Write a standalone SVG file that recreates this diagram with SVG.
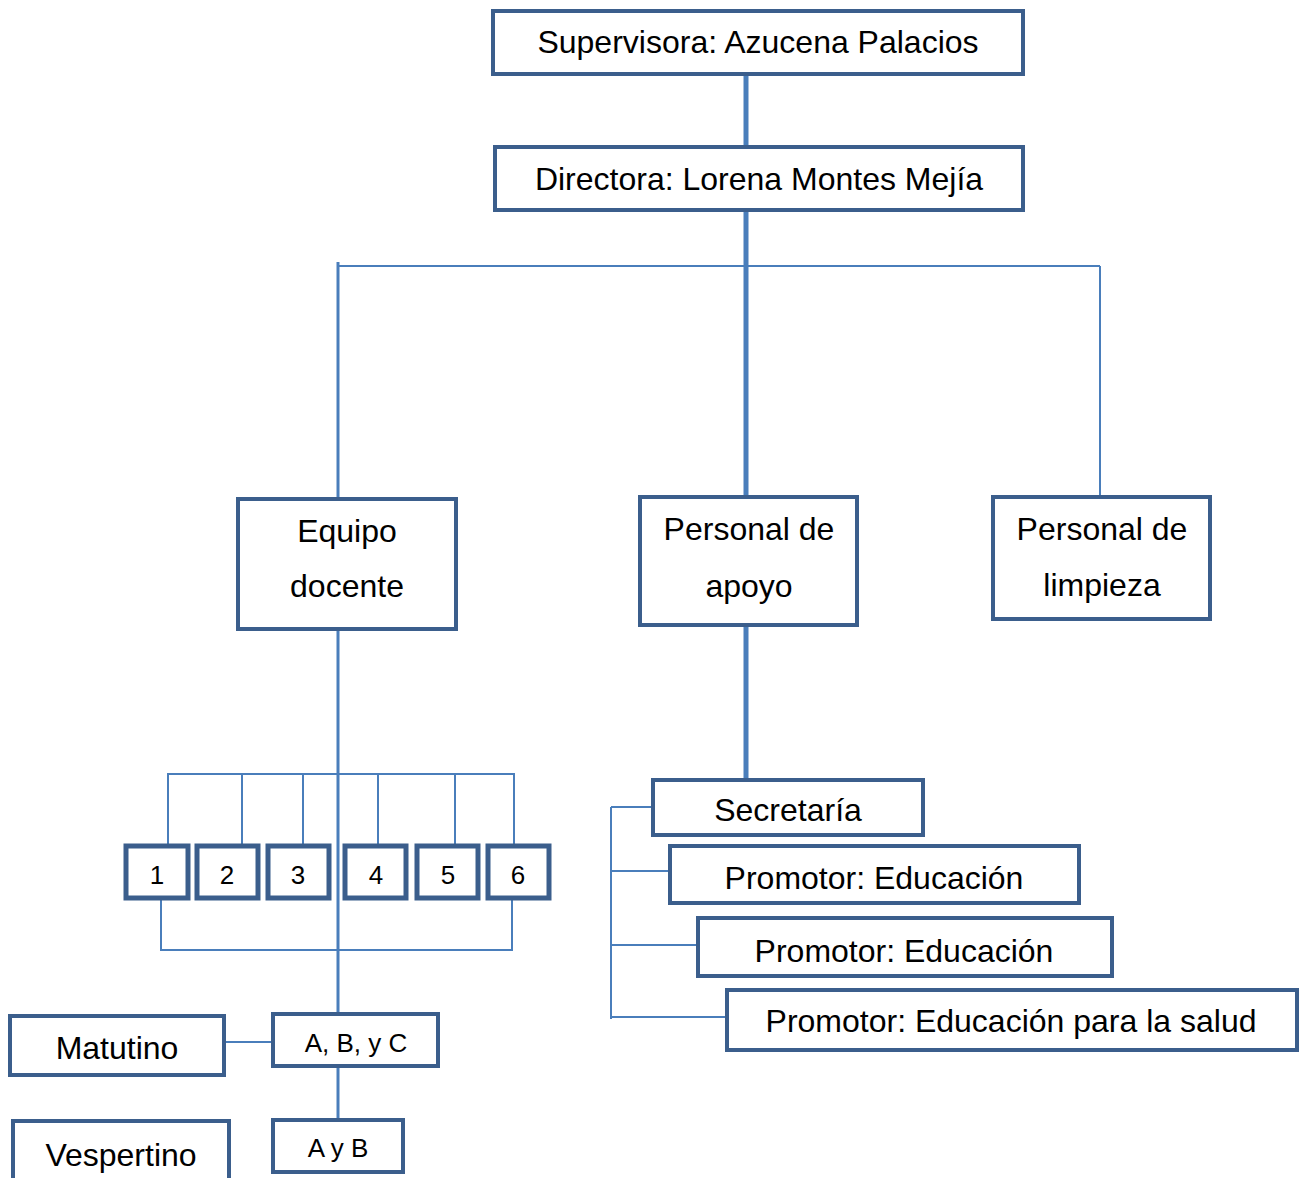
<svg xmlns="http://www.w3.org/2000/svg" width="1303" height="1178" viewBox="0 0 1303 1178">
<style>
.box{fill:#fff;stroke:#3B5E8C;stroke-width:4}
.sm{fill:#fff;stroke:#3B5E8C;stroke-width:5}
.t{font-family:"Liberation Sans",Arial,sans-serif;font-size:32px;fill:#000;text-anchor:middle;dominant-baseline:central}
.ts{font-family:"Liberation Sans",Arial,sans-serif;font-size:26px;fill:#000;text-anchor:middle;dominant-baseline:central}
.thick{stroke:#4A7EBB;stroke-width:5;fill:none}
.mid{stroke:#4A7EBB;stroke-width:3;fill:none}
.thin{stroke:#4A7EBB;stroke-width:2;fill:none}
</style>
<rect width="1303" height="1178" fill="#fff"/>
<g id="connectors">
<line class="thick" x1="746" y1="74" x2="746" y2="147"/>
<line class="thick" x1="746" y1="210" x2="746" y2="497"/>
<line class="thin" x1="338" y1="266" x2="1100" y2="266"/>
<line class="mid" x1="338" y1="262" x2="338" y2="499"/>
<line class="thin" x1="1100" y1="266" x2="1100" y2="497"/>
<line class="mid" x1="338" y1="629" x2="338" y2="1014"/>
<line class="thick" x1="746" y1="625" x2="746" y2="780"/>
<polyline class="thin" points="168,846 168,774 514,774 514,846"/>
<line class="thin" x1="242" y1="774" x2="242" y2="846"/>
<line class="thin" x1="303" y1="774" x2="303" y2="846"/>
<line class="thin" x1="378" y1="774" x2="378" y2="846"/>
<line class="thin" x1="455" y1="774" x2="455" y2="846"/>
<polyline class="thin" points="161,898 161,950 512,950 512,898"/>
<line class="thin" x1="224" y1="1042" x2="273" y2="1042"/>
<line class="mid" x1="338" y1="1066" x2="338" y2="1128"/>
<line class="thin" x1="611" y1="807" x2="611" y2="1019"/>
<line class="thin" x1="611" y1="807" x2="653" y2="807"/>
<line class="thin" x1="611" y1="871" x2="670" y2="871"/>
<line class="thin" x1="611" y1="945" x2="698" y2="945"/>
<line class="thin" x1="611" y1="1017" x2="727" y2="1017"/>
</g>
<g id="supervisora"><rect class="box" x="493" y="11" width="530" height="63"/><text class="t" x="758" y="42">Supervisora: Azucena Palacios</text></g>
<g id="directora"><rect class="box" x="495" y="147" width="528" height="63"/><text class="t" x="759" y="179">Directora: Lorena Montes Mejía</text></g>
<g id="equipo"><rect class="box" x="238" y="499" width="218" height="130"/><text class="t" x="347" y="531">Equipo</text><text class="t" x="347" y="586">docente</text></g>
<g id="apoyo"><rect class="box" x="640" y="497" width="217" height="128"/><text class="t" x="749" y="529">Personal de</text><text class="t" x="749" y="586">apoyo</text></g>
<g id="limpieza"><rect class="box" x="993" y="497" width="217" height="122"/><text class="t" x="1102" y="529">Personal de</text><text class="t" x="1102" y="585">limpieza</text></g>
<g id="n1"><rect class="sm" x="126" y="846" width="62" height="52"/><text class="ts" x="157" y="875">1</text></g>
<g id="n2"><rect class="sm" x="197" y="846" width="61" height="52"/><text class="ts" x="227" y="875">2</text></g>
<g id="n3"><rect class="sm" x="268" y="846" width="61" height="52"/><text class="ts" x="298" y="875">3</text></g>
<g id="n4"><rect class="sm" x="345" y="846" width="61" height="52"/><text class="ts" x="376" y="875">4</text></g>
<g id="n5"><rect class="sm" x="417" y="846" width="61" height="52"/><text class="ts" x="448" y="875">5</text></g>
<g id="n6"><rect class="sm" x="488" y="846" width="61" height="52"/><text class="ts" x="518" y="875">6</text></g>
<g id="abc"><rect class="box" x="273" y="1014" width="165" height="52"/><text class="ts" x="356" y="1043">A, B, y C</text></g>
<g id="ayb"><rect class="box" x="273" y="1120" width="130" height="52"/><text class="ts" x="338" y="1148">A y B</text></g>
<g id="matutino"><rect class="box" x="10" y="1016" width="214" height="59"/><text class="t" x="117" y="1048">Matutino</text></g>
<g id="vespertino"><rect class="box" x="13" y="1121" width="216" height="70"/><text class="t" x="121" y="1155">Vespertino</text></g>
<g id="secretaria"><rect class="box" x="653" y="780" width="270" height="55"/><text class="t" x="788" y="810">Secretaría</text></g>
<g id="promotor1"><rect class="box" x="670" y="846" width="409" height="57"/><text class="t" x="874" y="878">Promotor: Educación</text></g>
<g id="promotor2"><rect class="box" x="698" y="918" width="414" height="58"/><text class="t" x="904" y="951">Promotor: Educación</text></g>
<g id="promotor3"><rect class="box" x="727" y="990" width="570" height="60"/><text class="t" x="1011" y="1021">Promotor: Educación para la salud</text></g>
</svg>
